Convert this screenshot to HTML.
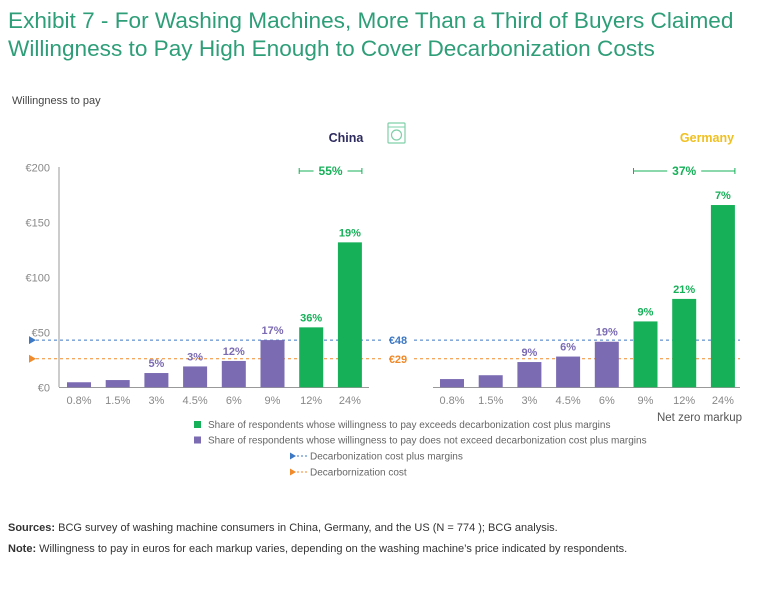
<!DOCTYPE html>
<html><head><meta charset="utf-8"><style>
body{margin:0;background:#fff;font-family:"Liberation Sans",sans-serif;}
#wrap{position:relative;width:768px;height:589px;overflow:hidden;}
.t{position:absolute;white-space:nowrap;}
</style></head><body>
<div id="wrap">
<div class="t" style="left:8px;top:7px;font-size:22.6px;line-height:28px;color:#2e9e78;">Exhibit 7 - For Washing Machines, More Than a Third of Buyers Claimed<br>Willingness to Pay High Enough to Cover Decarbonization Costs</div>
<div class="t" style="left:12px;top:95px;font-size:11px;color:#444;">Willingness to pay</div>
<div class="t" style="left:8px;top:522px;font-size:11px;color:#333;"><b>Sources:</b> BCG survey of washing machine consumers in China, Germany, and the US (N = 774 ); BCG analysis.</div>
<div class="t" style="left:8px;top:543px;font-size:11px;color:#333;"><b>Note:</b> Willingness to pay in euros for each markup varies, depending on the washing machine’s price indicated by respondents.</div>
<svg id="chart" width="768" height="589" style="position:absolute;left:0;top:0"></svg>
</div>
<script>
const categories=["0.8%","1.5%","3%","4.5%","6%","9%","12%","24%"];
const chinaValues=[4.6,6.6,13,19,24,43,54.6,132];
const chinaLabels=["","","5%","3%","12%","17%","36%","19%"];
const germanyValues=[7.5,11,23,28,41.5,60,80.5,166];
const germanyLabels=["","","9%","6%","19%","9%","21%","7%"];
const chinaGreenStart=6, germanyGreenStart=5;
const yTicks=[0,50,100,150,200];
const yTickLabels=["€0","€50","€100","€150","€200"];
const refValues=[43,26];
const refLabels=["€48","€29"];
const refColors=["#3d78c4","#f08a2a"];
const chinaTotal="55%", germanyTotal="37%";

const NS="http://www.w3.org/2000/svg";
const svg=document.getElementById('chart');
function mk(tag,attrs,text){const e=document.createElementNS(NS,tag);for(const k in attrs)e.setAttribute(k,attrs[k]);if(text!==undefined)e.textContent=text;svg.appendChild(e);return e;}
const y0=387.3, pxPer=1.098;
function y(v){return y0-v*pxPer;}
const GREEN="#16b058", PURPLE="#7b6bb3";

let ax=mk('line',{x1:59,y1:167,x2:59,y2:387,stroke:'#999','stroke-width':1});

yTicks.forEach((t,i)=>{
  const tl=mk('text',{x:50,y:y(t)+4,'text-anchor':'end','font-size':11,fill:'#888'},yTickLabels[i]);
  
});
refValues.forEach((v,i)=>{
  const l=mk('line',{x1:36,x2:382,y1:y(v),y2:y(v),stroke:refColors[i],'stroke-width':1,'stroke-dasharray':'3,3'});
  
  const l2=mk('line',{x1:414,x2:740,y1:y(v),y2:y(v),stroke:refColors[i],'stroke-width':1,'stroke-dasharray':'3,3'});
  
  const a=mk('polygon',{points:`29,${y(v)-4} 36,${y(v)} 29,${y(v)+4}`,fill:refColors[i]});
  
  const tx=mk('text',{x:398,y:y(v)+4,'text-anchor':'middle','font-size':11,'font-weight':'bold',fill:refColors[i]},refLabels[i]);
  
});
function panel(x0,step,vals,labels,gs,baseStart,baseEnd,name,title,titleColor,titleX,total){
  const b=mk('line',{x1:baseStart,x2:baseEnd,y1:387.5,y2:387.5,stroke:'#999','stroke-width':1});
  
  vals.forEach((v,i)=>{
    const x=x0+i*step, c=i>=gs?GREEN:PURPLE;
    const r=mk('rect',{x:x,y:y(v),width:24,height:v*pxPer,fill:c});
    
    if(labels[i]){const t=mk('text',{x:x+12,y:y(v)-6,'text-anchor':'middle','font-size':11,'font-weight':'bold',fill:c},labels[i]);
      }
    const ct=mk('text',{x:x+12,y:404,'text-anchor':'middle','font-size':11,fill:'#888'},categories[i]);
    
  });
  const tt=mk('text',{x:titleX,y:142,'text-anchor':'middle','font-size':12.5,'font-weight':'bold',fill:titleColor},title);
  
  const xs=x0+gs*step, xe=x0+(vals.length-1)*step+24, cx=(xs+xe)/2;
  const br=mk('path',{d:`M${xs},168 V174 M${xs},171 H${cx-17} M${cx+17},171 H${xe} M${xe},168 V174`,stroke:GREEN,fill:'none','stroke-width':1});
  
  const bt=mk('text',{x:cx,y:175,'text-anchor':'middle','font-size':12,'font-weight':'bold',fill:GREEN},total);
  
}
panel(67,38.7,chinaValues,chinaLabels,chinaGreenStart,59,369,'china','China','#2d2a5e',346,chinaTotal);
panel(440,38.7,germanyValues,germanyLabels,germanyGreenStart,433,740,'germany','Germany','#f0c020',707,germanyTotal);
const ic=mk('rect',{x:388,y:123,width:17,height:20,fill:'none',stroke:'#7fd0a8','stroke-width':1.2,rx:1});

mk('circle',{cx:396.5,cy:135,r:5,fill:'none',stroke:'#7fd0a8','stroke-width':1.2});
mk('line',{x1:388,x2:405,y1:127,y2:127,stroke:'#7fd0a8','stroke-width':1});
const nz=mk('text',{x:742,y:421,'text-anchor':'end','font-size':11.5,fill:'#555'},'Net zero markup');

const leg=[[GREEN,'Share of respondents whose willingness to pay exceeds decarbonization cost plus margins'],[PURPLE,'Share of respondents whose willingness to pay does not exceed decarbonization cost plus margins']];
leg.forEach((l,i)=>{
  const s=mk('rect',{x:194,y:421+i*15.5,width:7,height:7,fill:l[0]});
  
  const t=mk('text',{x:208,y:428+i*15.5,'font-size':10,fill:'#666'},l[1]);
  
});
const leg2=[[refColors[0],'Decarbonization cost plus margins'],[refColors[1],'Decarbornization cost']];
leg2.forEach((l,i)=>{
  const yy=456+i*16;
  const a=mk('polygon',{points:`290,${yy-3.5} 296,${yy} 290,${yy+3.5}`,fill:l[0]});
  
  mk('line',{x1:297,x2:307,y1:yy,y2:yy,stroke:l[0],'stroke-dasharray':'2,2'});
  const t=mk('text',{x:310,y:yy+3.5,'font-size':10,fill:'#666'},l[1]);
  
});
</script>
</body></html>
